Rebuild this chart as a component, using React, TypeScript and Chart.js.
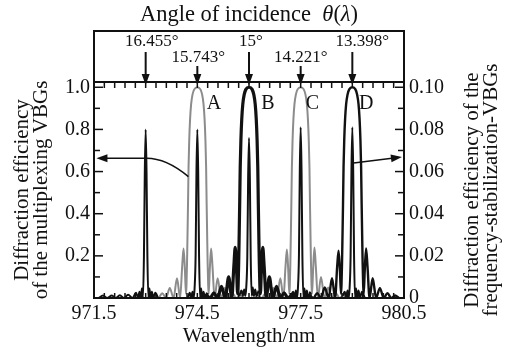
import React, { useEffect, useRef } from "react";
import { Chart, registerables } from "chart.js";

Chart.register(...registerables);

const FONT = '"Liberation Serif", "Times New Roman", serif';
const INK = "#111111";
const GRAY = "#8c8c8c";

// ---- axes ----
const xMin = 971.5;
const xMax = 980.5;
const xTickValues = [971.5, 974.5, 977.5, 980.5];
const xMinorStep = 0.3;
const leftMin = 0;
const leftMax = 1.025;
const leftTickValues = [0.2, 0.4, 0.6, 0.8, 1.0];
const leftMinorStep = 0.1;
const rightMin = 0;
const rightMax = 0.1025;
const rightTickValues = [0, 0.02, 0.04, 0.06, 0.08, 0.1];
const rightMinorStep = 0.01;

// ---- top annotation (angle of incidence) ----
const angleLabels = ["16.455°", "15.743°", "15°", "14.221°", "13.398°"];
const angleWavelengths = [973.0, 974.5, 976.0, 977.5, 979.0];

// ---- peak letters ----
const peakLetters = ["A", "B", "C", "D"];
const letterWavelengths = [974.98, 976.55, 977.84, 979.4];
const letterEfficiency = [0.92, 0.92, 0.92, 0.92];

// ---- pointer arrows (data coordinates) ----
const leftArrowWl = [974.24, 973.6, 973.03, 971.57];
const leftArrowEff = [0.576, 0.663, 0.663, 0.663];
const rightArrowWl = [978.98, 980.44];
const rightArrowEff = [0.0639, 0.0669];

// ---- multiplexing VBGs (left axis) ----
const wlA = [973.15, 973.26, 973.37, 973.48, 973.59, 973.7, 973.81, 973.91, 974.0, 974.06, 974.1, 974.14, 974.17, 974.185, 974.2, 974.215, 974.23, 974.245, 974.265, 974.29, 974.32, 974.36, 974.41, 974.5, 974.59, 974.64, 974.68, 974.71, 974.735, 974.755, 974.77, 974.785, 974.8, 974.815, 974.83, 974.86, 974.9, 974.94, 975.0, 975.09, 975.19, 975.3, 975.41, 975.52, 975.63, 975.74, 975.85];
const effA = [0, 0.012, 0, 0.023, 0, 0.047, 0, 0.094, 0, 0.15, 0.235, 0.13, 0.02, 0.06, 0.16, 0.3, 0.45, 0.62, 0.75, 0.85, 0.92, 0.965, 0.99, 1.0, 0.99, 0.965, 0.92, 0.85, 0.75, 0.62, 0.45, 0.3, 0.16, 0.06, 0.02, 0.13, 0.235, 0.15, 0, 0.094, 0, 0.047, 0, 0.023, 0, 0.012, 0];

const wlB = [974.65, 974.76, 974.87, 974.98, 975.09, 975.2, 975.31, 975.41, 975.5, 975.56, 975.6, 975.64, 975.67, 975.685, 975.7, 975.715, 975.73, 975.745, 975.765, 975.79, 975.82, 975.86, 975.91, 976.0, 976.09, 976.14, 976.18, 976.21, 976.235, 976.255, 976.27, 976.285, 976.3, 976.315, 976.33, 976.36, 976.4, 976.44, 976.5, 976.59, 976.69, 976.8, 976.91, 977.02, 977.13, 977.24, 977.35];
const effB = [0, 0.012, 0, 0.025, 0, 0.055, 0, 0.1, 0, 0.15, 0.24, 0.13, 0.02, 0.06, 0.16, 0.3, 0.45, 0.62, 0.75, 0.85, 0.92, 0.965, 0.99, 1.0, 0.99, 0.965, 0.92, 0.85, 0.75, 0.62, 0.45, 0.3, 0.16, 0.06, 0.02, 0.13, 0.24, 0.15, 0, 0.1, 0, 0.055, 0, 0.025, 0, 0.012, 0];

const wlC = [976.15, 976.26, 976.37, 976.48, 976.59, 976.7, 976.81, 976.91, 977.0, 977.06, 977.1, 977.14, 977.17, 977.185, 977.2, 977.215, 977.23, 977.245, 977.265, 977.29, 977.32, 977.36, 977.41, 977.5, 977.59, 977.64, 977.68, 977.71, 977.735, 977.755, 977.77, 977.785, 977.8, 977.815, 977.83, 977.86, 977.9, 977.94, 978.0, 978.09, 978.19, 978.3, 978.41, 978.52, 978.63, 978.74, 978.85];
const effC = [0, 0.012, 0, 0.023, 0, 0.047, 0, 0.094, 0, 0.15, 0.23, 0.13, 0.02, 0.06, 0.16, 0.3, 0.45, 0.62, 0.75, 0.85, 0.92, 0.965, 0.99, 1.0, 0.99, 0.965, 0.92, 0.85, 0.75, 0.62, 0.45, 0.3, 0.16, 0.06, 0.02, 0.13, 0.24, 0.15, 0, 0.1, 0, 0.05, 0, 0.023, 0, 0.012, 0];

const wlD = [977.65, 977.76, 977.87, 977.98, 978.09, 978.2, 978.31, 978.41, 978.5, 978.56, 978.6, 978.64, 978.67, 978.685, 978.7, 978.715, 978.73, 978.745, 978.765, 978.79, 978.82, 978.86, 978.91, 979.0, 979.09, 979.14, 979.18, 979.21, 979.235, 979.255, 979.27, 979.285, 979.3, 979.315, 979.33, 979.36, 979.4, 979.44, 979.5, 979.59, 979.69, 979.8, 979.91, 980.02, 980.13, 980.24, 980.35];
const effD = [0, 0.012, 0, 0.023, 0, 0.05, 0, 0.094, 0, 0.15, 0.225, 0.13, 0.02, 0.06, 0.16, 0.3, 0.45, 0.62, 0.75, 0.85, 0.92, 0.965, 0.99, 1.0, 0.99, 0.965, 0.92, 0.85, 0.75, 0.62, 0.45, 0.3, 0.16, 0.06, 0.02, 0.13, 0.235, 0.15, 0, 0.094, 0, 0.047, 0, 0.023, 0, 0.012, 0];

// ---- frequency-stabilization VBGs (right axis) ----
const wlS1 = [971.64, 971.76, 971.88, 972.02, 972.13, 972.25, 972.37, 972.49, 972.62, 972.72, 972.78, 972.82, 972.86, 972.89, 972.92, 972.95, 972.975, 973.0, 973.025, 973.05, 973.08, 973.11, 973.14, 973.18, 973.22, 973.28, 973.36];
const effS1 = [0, 0.0012, 0, 0.0012, 0, 0.0013, 0, 0.0015, 0, 0.0025, 0, 0.003, 0, 0.0045, 0, 0.02, 0.06, 0.08, 0.06, 0.02, 0, 0.0045, 0, 0.003, 0, 0.0025, 0];
const wlS2 = [974.22, 974.28, 974.32, 974.36, 974.39, 974.42, 974.45, 974.475, 974.5, 974.525, 974.55, 974.58, 974.61, 974.64, 974.68, 974.72, 974.78];
const effS2 = [0, 0.0025, 0, 0.003, 0, 0.0045, 0.02, 0.06, 0.08, 0.06, 0.02, 0, 0.0045, 0, 0.003, 0, 0.0025];
const wlS3 = [975.72, 975.78, 975.82, 975.86, 975.89, 975.92, 975.95, 975.975, 976.0, 976.025, 976.05, 976.08, 976.11, 976.14, 976.18, 976.22, 976.28];
const effS3 = [0.001, 0.0035, 0.001, 0.004, 0.001, 0.005, 0.019, 0.057, 0.076, 0.057, 0.019, 0.001, 0.005, 0.001, 0.004, 0.001, 0.0035];
const wlS4 = [977.22, 977.28, 977.32, 977.36, 977.39, 977.42, 977.45, 977.475, 977.5, 977.525, 977.55, 977.58, 977.61, 977.64, 977.68, 977.72, 977.78];
const effS4 = [0.001, 0.003, 0, 0.0035, 0, 0.0045, 0.02, 0.061, 0.081, 0.061, 0.02, 0, 0.0045, 0, 0.0035, 0, 0.003];
const wlS5 = [978.72, 978.78, 978.82, 978.86, 978.89, 978.92, 978.95, 978.975, 979.0, 979.025, 979.05, 979.08, 979.11, 979.14, 979.18, 979.22, 979.28, 979.36];
const effS5 = [0.001, 0.003, 0, 0.0035, 0, 0.0045, 0.02, 0.061, 0.081, 0.061, 0.02, 0, 0.0045, 0, 0.0035, 0, 0.003, 0];

const pts = (xs: number[], ys: number[]) => xs.map((x, i) => ({ x, y: ys[i] }));

function arrowHead(ctx: CanvasRenderingContext2D, tx: number, ty: number, fx: number, fy: number, len: number, half: number) {
  const a = Math.atan2(ty - fy, tx - fx);
  ctx.beginPath();
  ctx.moveTo(tx, ty);
  ctx.lineTo(tx - len * Math.cos(a) + half * Math.sin(a), ty - len * Math.sin(a) - half * Math.cos(a));
  ctx.lineTo(tx - len * Math.cos(a) - half * Math.sin(a), ty - len * Math.sin(a) + half * Math.cos(a));
  ctx.closePath();
  ctx.fill();
}

const decorations = {
  id: "decorations",
  afterDraw(chart: any) {
    const { ctx, chartArea: ca, scales } = chart;
    const xs = scales.x;
    const yl = scales.y;
    const yr = scales.y2;
    ctx.save();
    ctx.strokeStyle = INK;
    ctx.fillStyle = INK;
    const seg = (x1: number, y1: number, x2: number, y2: number) => {
      ctx.beginPath();
      ctx.moveTo(x1, y1);
      ctx.lineTo(x2, y2);
      ctx.stroke();
    };
    // inner ticks
    ctx.lineWidth = 1.5;
    const nx = Math.round((xMax - xMin) / xMinorStep);
    for (let i = 0; i <= nx; i++) {
      const px = xs.getPixelForValue(xMin + i * xMinorStep);
      seg(px, ca.top, px, ca.top + 6);
      seg(px, ca.bottom, px, ca.bottom - 5);
    }
    const nl = Math.round((leftMax - leftMin) / leftMinorStep);
    for (let i = 1; i <= nl; i++) {
      const py = yl.getPixelForValue(leftMin + i * leftMinorStep);
      seg(ca.left, py, ca.left + (i % 2 === 0 ? 9 : 6), py);
    }
    const nr = Math.round((rightMax - rightMin) / rightMinorStep);
    for (let i = 1; i <= nr; i++) {
      const py = yr.getPixelForValue(rightMin + i * rightMinorStep);
      seg(ca.right, py, ca.right - (i % 2 === 0 ? 9 : 6), py);
    }
    // frame + top box
    ctx.lineWidth = 2;
    ctx.strokeRect(ca.left, ca.top, ca.right - ca.left, ca.bottom - ca.top);
    const boxTop = 31;
    ctx.strokeRect(ca.left, boxTop, ca.right - ca.left, ca.top - boxTop);

    // title above box
    const cx = (ca.left + ca.right) / 2;
    ctx.textBaseline = "middle";
    const parts: [string, boolean][] = [["Angle of incidence  ", false], ["θ", true], ["(", false], ["λ", true], [")", false]];
    const reg = `22.5px ${FONT}`;
    const ital = `italic 22.5px ${FONT}`;
    let total = 0;
    for (const [t, it] of parts) { ctx.font = it ? ital : reg; total += ctx.measureText(t).width; }
    let tx = cx - total / 2;
    ctx.textAlign = "left";
    for (const [t, it] of parts) { ctx.font = it ? ital : reg; ctx.fillText(t, tx, 15); tx += ctx.measureText(t).width; }

    // angle labels and arrows
    const labelDx = [6, 1, 2, 0, 10];
    ctx.font = `17px ${FONT}`;
    ctx.textAlign = "center";
    for (let i = 0; i < angleLabels.length; i++) {
      const px = xs.getPixelForValue(angleWavelengths[i]);
      const high = i % 2 === 0;
      ctx.fillText(angleLabels[i], px + labelDx[i], high ? 42 : 58);
      ctx.lineWidth = 2;
      seg(px, high ? 52 : 66, px, ca.top - 6);
      arrowHead(ctx, px, ca.top + 3, px, ca.top - 20, 11, 4);
    }

    // letters
    ctx.font = `20px ${FONT}`;
    for (let i = 0; i < peakLetters.length; i++) {
      ctx.fillText(peakLetters[i], xs.getPixelForValue(letterWavelengths[i]), yl.getPixelForValue(letterEfficiency[i]));
    }

    // left curved arrow
    const lp = leftArrowWl.map((w, i) => [xs.getPixelForValue(w), yl.getPixelForValue(leftArrowEff[i])]);
    ctx.lineWidth = 1.5;
    ctx.beginPath();
    ctx.moveTo(lp[0][0], lp[0][1]);
    ctx.quadraticCurveTo(lp[1][0], lp[1][1], lp[2][0], lp[2][1]);
    ctx.lineTo(lp[3][0] + 8, lp[3][1]);
    ctx.stroke();
    arrowHead(ctx, lp[3][0], lp[3][1], lp[2][0], lp[2][1], 11, 4);

    // right arrow
    const r0 = [xs.getPixelForValue(rightArrowWl[0]), yr.getPixelForValue(rightArrowEff[0])];
    const r1 = [xs.getPixelForValue(rightArrowWl[1]), yr.getPixelForValue(rightArrowEff[1])];
    const ang = Math.atan2(r1[1] - r0[1], r1[0] - r0[0]);
    seg(r0[0], r0[1], r1[0] - 8 * Math.cos(ang), r1[1] - 8 * Math.sin(ang));
    arrowHead(ctx, r1[0], r1[1], r0[0], r0[1], 11, 4);

    // right axis title (reads bottom-to-top)
    const midY = (ca.top + ca.bottom) / 2;
    ctx.font = `21px ${FONT}`;
    const rt = ["Diffraction efficiency of the", "frequency-stabilization-VBGs"];
    const rx = [ca.right + 68, ca.right + 87];
    for (let i = 0; i < rt.length; i++) {
      ctx.save();
      ctx.translate(rx[i], midY);
      ctx.rotate(-Math.PI / 2);
      ctx.fillText(rt[i], 0, 0);
      ctx.restore();
    }
    ctx.restore();
  },
};

const line = (xs: number[], ys: number[], color: string, width: number, axis: string, order: number) => ({
  data: pts(xs, ys),
  borderColor: color,
  backgroundColor: color,
  borderWidth: width,
  pointRadius: 0,
  fill: false,
  cubicInterpolationMode: "monotone" as const,
  yAxisID: axis,
  order,
});

export default function App() {
  const ref = useRef<HTMLCanvasElement>(null);
  useEffect(() => {
    if (!ref.current) return;
    Chart.defaults.font.family = FONT;
    const chart = new Chart(ref.current, {
      type: "line",
      data: {
        datasets: [
          line(wlS1, effS1, INK, 2, "y2", 0),
          line(wlS2, effS2, INK, 2, "y2", 0),
          line(wlS3, effS3, INK, 2, "y2", 0),
          line(wlS4, effS4, INK, 2, "y2", 0),
          line(wlS5, effS5, INK, 2, "y2", 0),
          line(wlB, effB, INK, 3.2, "y", 1),
          line(wlD, effD, INK, 2.4, "y", 1),
          line(wlA, effA, GRAY, 2, "y", 2),
          line(wlC, effC, GRAY, 2, "y", 2),
        ] as any,
      },
      options: {
        animation: false,
        responsive: false,
        events: [],
        layout: { padding: { top: 82, left: 0, right: 0, bottom: 0 } },
        plugins: { legend: { display: false }, tooltip: { enabled: false } },
        scales: {
          x: {
            type: "linear",
            position: "bottom",
            min: xMin,
            max: xMax,
            grid: { display: false, drawTicks: false },
            border: { display: false },
            afterBuildTicks: (s: any) => { s.ticks = xTickValues.map((v) => ({ value: v })); },
            afterFit: (s: any) => { s.height = 53; },
            ticks: { color: INK, font: { size: 20 }, padding: 4, maxRotation: 0, autoSkip: false, callback: (v: any) => Number(v).toFixed(1) },
            title: { display: true, text: "Wavelength/nm", color: INK, font: { size: 21 }, padding: { top: 0, bottom: 2 } },
          },
          y: {
            type: "linear",
            position: "left",
            min: leftMin,
            max: leftMax,
            grid: { display: false, drawTicks: false },
            border: { display: false },
            afterBuildTicks: (s: any) => { s.ticks = leftTickValues.map((v) => ({ value: v })); },
            afterFit: (s: any) => { s.width = 94; },
            ticks: { color: INK, font: { size: 20 }, padding: 4, callback: (v: any) => Number(v).toFixed(1) },
            title: { display: true, text: ["Diffraction efficiency", "of the multiplexing VBGs"], color: INK, font: { size: 21, lineHeight: 0.9 }, padding: { top: 13, bottom: 0 } },
          },
          y2: {
            type: "linear",
            position: "right",
            min: rightMin,
            max: rightMax,
            grid: { display: false, drawTicks: false },
            border: { display: false },
            afterBuildTicks: (s: any) => { s.ticks = rightTickValues.map((v) => ({ value: v })); },
            afterFit: (s: any) => { s.width = 101; },
            ticks: { color: INK, font: { size: 20 }, padding: 5, callback: (v: any) => (Number(v) === 0 ? "0" : Number(v).toFixed(2)) },
            title: { display: false },
          },
        },
      },
      plugins: [decorations],
    } as any);
    return () => chart.destroy();
  }, []);
  return (
    <div style={{ position: "fixed", left: 0, top: 0, width: 505, height: 351, background: "#fff" }}>
      <canvas ref={ref} width={505} height={351} style={{ display: "block", width: 505, height: 351 }} />
    </div>
  );
}
